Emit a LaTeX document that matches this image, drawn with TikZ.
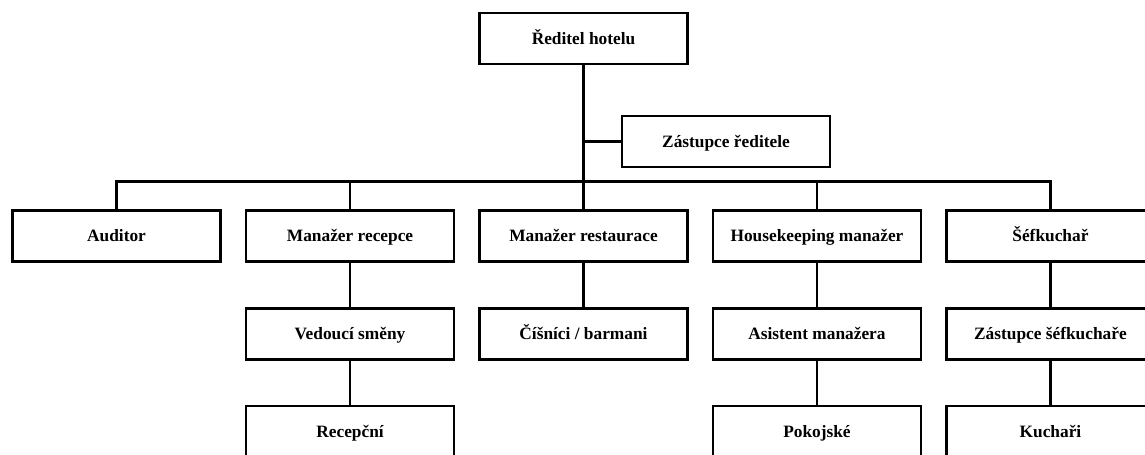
\documentclass[tikz,border=0pt]{standalone}
\usepackage{fontspec}
\setmainfont{Liberation Serif}
\usetikzlibrary{positioning}
\tikzstyle{role} = [rectangle,
                    draw=black,
                    fill=white,
                    line width=1.8pt,
                    minimum width=156pt,
                    minimum height=38.25pt,
                    inner sep=0pt,
                    text height=8.5pt,
                    text depth=0pt,
                    font=\fontsize{13}{15}\selectfont\bfseries]

\begin{document}
\begin{tikzpicture}[x=0.75pt, y=-0.75pt,
                      node distance=33.3pt and 17.3pt,
                      line width=1.8pt]
    \path[use as bounding box, clip] (0,0) rectangle (1145,454);
    \node (dir) [role] at (583.5,38.5) {Ředitel hotelu};
    \node (dep) [role] at (726,141.5) {Zástupce ředitele};
    \node (rest) [role] at (583.5,236) {Manažer restaurace};
    \node (rec) [left =of rest] [role] {Manažer recepce};
    \node (aud) [left =of rec] [role] {Auditor};
    \node (hk) [right =of rest] [role] {Housekeeping manažer};
    \node (chef) [right =of hk] [role] {Šéfkuchař};
    \node (shift) [below =of rec] [role] {Vedoucí směny};
    \node (waiters) [below =of rest] [role] {Číšníci / barmani};
    \node (asst) [below =of hk] [role] {Asistent manažera};
    \node (souschef) [below =of chef] [role] {Zástupce šéfkuchaře};
    \node (recp) [below =of shift] [role] {Recepční};
    \node (maids) [below =of asst] [role] {Pokojské};
    \node (cooks) [below =of souschef] [role] {Kuchaři};
    \coordinate (bus) at ([yshift=21pt]rest.north);
    % ridici linie
    \draw (dir) -- (rest);
    \draw (dir |- dep) -- (dep);
    \draw (aud.north) |- (bus) -| (chef.north);
    \foreach \n in {rec,hk}
      \draw (\n.north) -- (\n.north |- bus);
    \path
      (rec) edge (shift)
      (shift) edge (recp)
      (rest) edge (waiters)
      (hk) edge (asst)
      (asst) edge (maids)
      (chef) edge (souschef)
      (souschef) edge (cooks);
  \end{tikzpicture}
\end{document}
